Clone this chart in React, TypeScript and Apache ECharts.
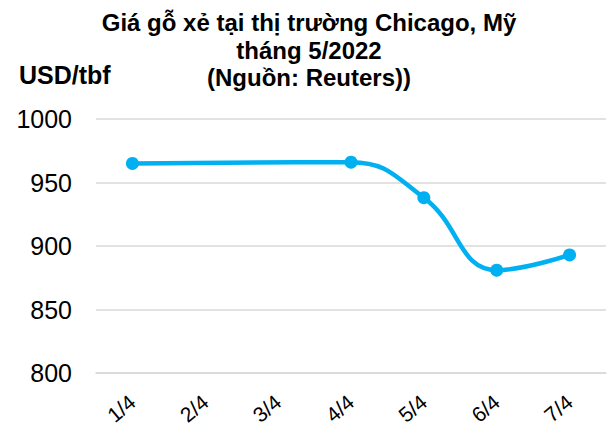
import React, { useEffect, useRef } from "react";
import * as echarts from "echarts";

const categories = ["1/4", "2/4", "3/4", "4/4", "5/4", "6/4", "7/4"];
const prices: (number | null)[] = [965, null, null, 966, 938, 881, 893];
const titleText = "Giá gỗ xẻ tại thị trường Chicago, Mỹ\ntháng 5/2022\n(Nguồn: Reuters))";
const unitText = "USD/tbf";
const yMin = 800;
const yMax = 1000;
const yStep = 50;

const FONT = "Liberation Sans, Arial, sans-serif";

export default function App() {
  const ref = useRef<HTMLDivElement>(null);
  useEffect(() => {
    const chart = echarts.init(ref.current!, null, { renderer: "svg" });
    chart.setOption({
      animation: false,
      backgroundColor: "#ffffff",
      title: [
        {
          text: titleText,
          left: 304,
          top: 4,
          textAlign: "center",
          textStyle: {
            fontFamily: FONT,
            fontSize: 24,
            fontWeight: "bold",
            lineHeight: 27.5,
            color: "#000",
          },
        },
        {
          text: unitText,
          left: 14,
          top: 57,
          textStyle: {
            fontFamily: FONT,
            fontSize: 25,
            fontWeight: "bold",
            color: "#000",
          },
        },
      ],
      grid: { left: 96, right: 6, top: 119, bottom: 59, containLabel: false },
      xAxis: {
        type: "category",
        data: categories,
        boundaryGap: true,
        axisLine: { lineStyle: { color: "#d9d9d9", width: 1.5 } },
        axisTick: { show: false },
        axisLabel: {
          rotate: 40,
          margin: 26,
          fontFamily: FONT,
          fontSize: 21,
          color: "#000",
        },
      },
      yAxis: {
        type: "value",
        min: yMin,
        max: yMax,
        interval: yStep,
        axisLine: { show: false },
        axisTick: { show: false },
        splitLine: { lineStyle: { color: "#d9d9d9", width: 1.5 } },
        axisLabel: {
          margin: 24,
          fontFamily: FONT,
          fontSize: 25,
          color: "#000",
          formatter: (v: number) => String(v),
        },
      },
      series: [
        {
          type: "line",
          data: prices,
          connectNulls: true,
          smooth: 0.45,
          symbol: "circle",
          symbolSize: 13,
          lineStyle: { color: "#00B0F0", width: 4.5 },
          itemStyle: { color: "#00B0F0" },
        },
      ],
    });
    return () => chart.dispose();
  }, []);
  return (
    <div
      ref={ref}
      style={{ position: "fixed", left: 0, top: 0, width: 612, height: 432 }}
    />
  );
}
